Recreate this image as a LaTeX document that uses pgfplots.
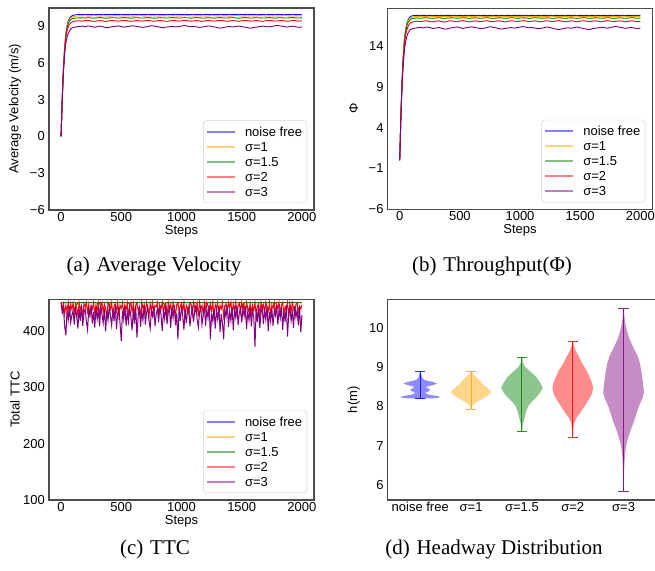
\documentclass[border=0pt]{standalone}
\usepackage{pgfplots}
\pgfplotsset{compat=1.18}
\usepackage{pgfplotstable}
\usepackage{fontspec}
\setmainfont{Liberation Sans}
\newfontfamily\capfont{Liberation Serif}

\definecolor{cb}{RGB}{0,0,255}
\definecolor{co}{RGB}{255,165,0}
\definecolor{cg}{RGB}{0,128,0}
\definecolor{cr}{RGB}{255,0,0}
\definecolor{cp}{RGB}{128,0,128}

\pgfplotstableread{
x nf s1 s15 s2 s3
0 0 0 0 0 0
10 3.2 3.2 3.1 3.1 3.0
20 5.6 5.5 5.5 5.4 5.2
30 7.3 7.2 7.1 7.0 6.7
40 8.4 8.3 8.2 8.0 7.6
50 9.0 8.9 8.8 8.6 8.1
60 9.4 9.3 9.2 8.95 8.4
70 9.6 9.5 9.4 9.15 8.6
80 9.75 9.65 9.5 9.25 8.75
90 9.83 9.72 9.57 9.32 8.83
100 9.88 9.77 9.61 9.37 8.88
125 9.92 9.81 9.65 9.41 8.93
150 9.93 9.82 9.66 9.43 8.96
175 9.93 9.83 9.67 9.40 8.99
200 9.92 9.82 9.65 9.44 8.94
225 9.93 9.81 9.68 9.46 9.01
250 9.93 9.83 9.66 9.41 8.97
275 9.92 9.84 9.64 9.38 8.90
300 9.93 9.82 9.67 9.42 8.95
325 9.93 9.81 9.69 9.45 8.99
350 9.92 9.83 9.66 9.40 8.93
375 9.93 9.82 9.64 9.37 8.86
400 9.93 9.80 9.66 9.43 8.89
425 9.92 9.82 9.68 9.46 8.94
450 9.93 9.84 9.67 9.42 8.97
475 9.93 9.83 9.65 9.39 9.01
500 9.92 9.81 9.66 9.44 8.96
525 9.93 9.82 9.69 9.47 8.91
550 9.93 9.83 9.67 9.43 8.95
575 9.92 9.82 9.64 9.38 8.99
600 9.93 9.80 9.66 9.41 9.02
625 9.93 9.82 9.68 9.45 8.97
650 9.92 9.84 9.66 9.42 8.93
675 9.93 9.83 9.65 9.40 8.89
700 9.93 9.81 9.67 9.44 8.92
725 9.92 9.82 9.69 9.46 8.97
750 9.93 9.83 9.66 9.41 9.03
775 9.93 9.82 9.64 9.39 8.99
800 9.92 9.81 9.66 9.43 8.95
825 9.93 9.83 9.68 9.45 8.90
850 9.93 9.84 9.67 9.42 8.86
875 9.92 9.82 9.65 9.38 8.91
900 9.93 9.81 9.66 9.41 8.94
925 9.93 9.83 9.69 9.46 8.97
950 9.92 9.82 9.67 9.44 8.93
975 9.93 9.80 9.65 9.40 8.96
1000 9.93 9.82 9.66 9.43 9.00
1025 9.92 9.83 9.68 9.47 9.04
1050 9.93 9.84 9.67 9.44 8.99
1075 9.93 9.82 9.64 9.39 8.95
1100 9.92 9.81 9.66 9.42 8.98
1125 9.93 9.83 9.69 9.45 8.93
1150 9.93 9.82 9.67 9.41 8.89
1175 9.92 9.83 9.65 9.38 8.92
1200 9.93 9.81 9.66 9.43 8.96
1225 9.93 9.82 9.68 9.46 9.01
1250 9.92 9.84 9.66 9.42 8.97
1275 9.93 9.83 9.64 9.40 8.92
1300 9.93 9.81 9.67 9.44 8.86
1325 9.92 9.82 9.69 9.47 8.83
1350 9.93 9.83 9.66 9.43 8.88
1375 9.93 9.82 9.65 9.39 8.93
1400 9.92 9.80 9.67 9.41 8.96
1425 9.93 9.82 9.68 9.45 8.92
1450 9.93 9.84 9.66 9.42 8.97
1475 9.92 9.83 9.64 9.38 9.00
1500 9.93 9.81 9.66 9.43 8.95
1525 9.93 9.82 9.69 9.46 8.91
1550 9.92 9.83 9.67 9.44 8.86
1575 9.93 9.82 9.65 9.40 8.83
1600 9.93 9.81 9.66 9.42 8.88
1625 9.92 9.83 9.68 9.45 8.92
1650 9.93 9.84 9.67 9.41 8.95
1675 9.93 9.82 9.65 9.38 8.99
1700 9.92 9.81 9.66 9.43 8.96
1725 9.93 9.83 9.69 9.47 8.93
1750 9.93 9.82 9.67 9.44 8.97
1775 9.92 9.83 9.64 9.40 9.02
1800 9.93 9.81 9.66 9.42 9.05
1825 9.93 9.82 9.68 9.45 9.00
1850 9.92 9.84 9.66 9.43 8.96
1875 9.93 9.83 9.65 9.39 8.92
1900 9.93 9.81 9.67 9.41 8.95
1925 9.92 9.82 9.69 9.46 8.99
1950 9.93 9.83 9.66 9.43 8.94
1975 9.93 9.82 9.65 9.40 8.89
2000 9.92 9.83 9.67 9.42 8.93
}\tabv

\pgfplotstableread{
x nf s1 s15 s2 s3
0 0 0 0 0 0
10 5.8 5.7 5.6 5.5 5.3
20 10.0 9.9 9.8 9.6 9.3
30 13.0 12.9 12.7 12.4 11.9
40 15.0 14.9 14.7 14.3 13.6
50 16.1 16.0 15.8 15.4 14.6
60 16.8 16.7 16.5 16.0 15.2
70 17.2 17.1 16.9 16.4 15.6
80 17.45 17.3 17.1 16.65 15.85
90 17.6 17.45 17.25 16.8 16.0
100 17.67 17.53 17.33 16.9 16.08
125 17.72 17.59 17.39 16.97 16.17
150 17.73 17.60 17.41 17.02 16.22
175 17.72 17.62 17.38 16.96 16.28
200 17.73 17.59 17.42 17.04 16.19
225 17.72 17.61 17.44 17.07 16.31
250 17.73 17.63 17.40 16.98 16.24
275 17.72 17.60 17.37 16.93 16.12
300 17.73 17.58 17.41 17.01 16.18
325 17.72 17.61 17.45 17.06 16.26
350 17.73 17.62 17.40 16.97 16.16
375 17.72 17.60 17.37 16.91 16.05
400 17.73 17.57 17.40 17.02 16.10
425 17.72 17.60 17.43 17.08 16.20
450 17.73 17.63 17.42 17.01 16.25
475 17.72 17.61 17.39 16.95 16.32
500 17.73 17.59 17.40 17.04 16.23
525 17.72 17.60 17.45 17.09 16.14
550 17.73 17.62 17.42 17.02 16.21
575 17.72 17.61 17.37 16.94 16.28
600 17.73 17.58 17.40 16.99 16.33
625 17.72 17.60 17.43 17.06 16.25
650 17.73 17.63 17.40 17.01 16.18
675 17.72 17.62 17.38 16.97 16.11
700 17.73 17.59 17.41 17.04 16.16
725 17.72 17.60 17.45 17.08 16.25
750 17.73 17.62 17.40 16.99 16.35
775 17.72 17.61 17.37 16.95 16.28
800 17.73 17.59 17.40 17.03 16.21
825 17.72 17.61 17.43 17.06 16.12
850 17.73 17.63 17.42 17.01 16.05
875 17.72 17.60 17.39 16.93 16.14
900 17.73 17.58 17.40 16.99 16.19
925 17.72 17.61 17.45 17.08 16.25
950 17.73 17.60 17.42 17.04 16.18
975 17.72 17.57 17.39 16.97 16.23
1000 17.73 17.60 17.40 17.02 16.30
1025 17.72 17.62 17.43 17.09 16.37
1050 17.73 17.63 17.42 17.04 16.28
1075 17.72 17.60 17.37 16.96 16.21
1100 17.73 17.59 17.40 17.01 16.26
1125 17.72 17.61 17.45 17.07 16.17
1150 17.73 17.60 17.42 17.00 16.10
1175 17.72 17.62 17.39 16.94 16.15
1200 17.73 17.59 17.40 17.03 16.22
1225 17.72 17.60 17.43 17.08 16.31
1250 17.73 17.63 17.40 17.01 16.24
1275 17.72 17.62 17.37 16.97 16.15
1300 17.73 17.59 17.41 17.04 16.05
1325 17.72 17.60 17.45 17.09 16.00
1350 17.73 17.62 17.40 17.02 16.08
1375 17.72 17.61 17.38 16.95 16.17
1400 17.73 17.57 17.41 16.99 16.22
1425 17.72 17.60 17.43 17.07 16.15
1450 17.73 17.63 17.40 17.01 16.24
1475 17.72 17.62 17.37 16.94 16.30
1500 17.73 17.59 17.40 17.03 16.21
1525 17.72 17.60 17.45 17.08 16.14
1550 17.73 17.62 17.42 17.04 16.05
1575 17.72 17.61 17.38 16.97 16.00
1600 17.73 17.59 17.40 17.01 16.09
1625 17.72 17.61 17.43 17.07 16.16
1650 17.73 17.63 17.42 17.00 16.21
1675 17.72 17.60 17.38 16.94 16.28
1700 17.73 17.58 17.40 17.03 16.23
1725 17.72 17.61 17.45 17.09 16.17
1750 17.73 17.60 17.42 17.04 16.24
1775 17.72 17.62 17.37 16.97 16.33
1800 17.73 17.59 17.40 17.01 16.38
1825 17.72 17.60 17.43 17.06 16.30
1850 17.73 17.63 17.40 17.03 16.22
1875 17.72 17.62 17.38 16.95 16.15
1900 17.73 17.59 17.41 16.99 16.20
1925 17.72 17.60 17.45 17.08 16.27
1950 17.73 17.62 17.42 17.03 16.18
1975 17.72 17.61 17.38 16.96 16.10
2000 17.73 17.60 17.40 17.00 16.17
}\tabphi

\pgfplotstableread{
x s2 s3
0 450 450
10 440 432
20 448 441
30 430 408
40 445 392
50 436 437
60 450 420
70 425 444
80 447 415
90 438 428
100 449 436
110 432 411
120 446 443
130 441 425
140 427 404
150 450 439
160 437 418
170 444 446
180 421 409
190 448 431
200 443 440
210 450 417
220 434 402
230 447 438
240 428 427
250 445 445
260 439 413
270 450 434
280 431 406
290 446 442
300 436 421
310 449 437
320 426 408
330 444 444
340 450 429
350 433 414
360 447 440
370 440 399
380 422 435
390 450 419
400 446 443
410 438 426
420 450 410
430 429 438
440 443 417
450 448 446
460 435 403
470 450 431
480 427 441
490 445 412
500 440 382
510 450 436
520 431 420
530 446 445
540 437 409
550 449 433
560 424 416
570 444 442
580 450 425
590 434 401
600 448 438
610 429 413
620 445 444
630 450 388
640 436 427
650 442 440
660 426 407
670 450 435
680 439 419
690 447 446
700 433 411
710 450 432
720 441 442
730 425 418
740 448 404
750 437 437
760 450 426
770 430 444
780 445 409
790 443 430
800 450 439
810 427 415
820 446 443
830 439 428
840 450 400
850 432 436
860 444 421
870 448 445
880 423 412
890 450 433
900 438 441
910 447 405
920 430 438
930 450 423
940 441 446
950 428 410
960 446 431
970 450 385
980 435 437
990 444 418
1000 449 444
1010 436 426
1020 450 402
1030 424 439
1040 445 414
1050 440 435
1060 431 443
1070 450 408
1080 447 429
1090 429 440
1100 450 416
1110 441 437
1120 433 445
1130 448 420
1140 426 406
1150 450 433
1160 439 441
1170 445 411
1180 430 427
1190 450 444
1200 437 409
1210 450 438
1220 444 423
1230 428 446
1240 447 385
1250 435 431
1260 450 417
1270 421 440
1280 446 404
1290 440 436
1300 450 421
1310 429 444
1320 445 398
1330 439 430
1340 450 413
1350 426 385
1360 443 439
1370 448 426
1380 434 445
1390 450 407
1400 442 435
1410 450 418
1420 431 442
1430 447 401
1440 436 437
1450 450 424
1460 425 446
1470 444 410
1480 449 432
1490 433 440
1500 450 415
1510 438 438
1520 446 427
1530 427 444
1540 450 403
1550 441 434
1560 434 419
1570 448 441
1580 430 408
1590 445 436
1600 436 425
1610 450 372
1620 429 439
1630 444 416
1640 448 445
1650 423 405
1660 450 431
1670 439 442
1680 446 412
1690 431 437
1700 450 420
1710 442 444
1720 435 400
1730 450 433
1740 428 417
1750 446 440
1760 440 409
1770 450 436
1780 426 427
1790 447 445
1800 439 411
1810 450 438
1820 432 423
1830 445 442
1840 450 402
1850 430 435
1860 443 416
1870 437 446
1880 450 390
1890 425 429
1900 448 441
1910 434 418
1920 450 434
1930 441 405
1940 429 444
1950 447 424
1960 450 437
1970 433 410
1980 444 443
1990 439 398
2000 446 428
}\tabttc

\newcommand{\mylegend}{%
  \addlegendimage{line width=2pt, color=cb!50!white}\addlegendentry{noise free}
  \addlegendimage{line width=2pt, color=co!50!white}\addlegendentry{σ=1}
  \addlegendimage{line width=2pt, color=cg!50!white}\addlegendentry{σ=1.5}
  \addlegendimage{line width=2pt, color=cr!50!white}\addlegendentry{σ=2}
  \addlegendimage{line width=2pt, color=cp!50!white}\addlegendentry{σ=3}
}

\pgfplotsset{
  base/.style={
    scale only axis,
    anchor=south west,
    enlargelimits=false,
    axis line style={draw=black!70, line width=1.1pt},
    major tick length=0pt,
    tick label style={font=\fontsize{13}{15}\selectfont, inner sep=2pt},
    yticklabel style={xshift=-2pt},
    every axis x label/.style={at={([yshift=-21pt]axis description cs:0.5,0)}, anchor=center, font=\fontsize{13}{15}\selectfont},
    every axis y label/.style={at={([xshift=-34pt]axis description cs:0,0.5)}, rotate=90, anchor=center, font=\fontsize{13}{15}\selectfont},
    legend cell align=left,
    legend image code/.code={\draw[##1] (0pt,0pt) -- (28pt,0pt);},
    legend style={at={(1,0)}, anchor=south east, xshift=-7pt, yshift=7pt,
      draw=black!18, rounded corners=3pt, fill=white,
      font=\fontsize{13}{15}\selectfont,
      inner xsep=2.7pt, inner ysep=4.3pt, row sep=1.5pt, column sep=7pt,
      nodes={inner xsep=2pt, inner ysep=2pt, text height=9.5pt, text depth=0pt}},
  },
  steps/.style={
    xmin=-100, xmax=2100,
    xtick={0,500,1000,1500,2000},
    xticklabels={0,500,1000,1500,2000},
    xlabel={Steps},
  },
}

\begin{document}
\begin{tikzpicture}
\useasboundingbox (0,0) rectangle (655pt,570pt);

% (a)
\begin{axis}[base, steps, at={(49pt,360pt)}, width=265pt, height=202pt,
  ymin=-6, ymax=10.47, ytick={-6,-3,0,3,6,9}, yticklabels={−6,−3,0,3,6,9},
  ylabel={Average Velocity (m/s)}]
\addplot[cb, line width=0.9pt, forget plot] table[x=x,y=nf]{\tabv};
\addplot[co, line width=0.9pt, forget plot] table[x=x,y=s1]{\tabv};
\addplot[cg, line width=0.9pt, forget plot] table[x=x,y=s15]{\tabv};
\addplot[cr, line width=0.9pt, forget plot] table[x=x,y=s2]{\tabv};
\addplot[cp, line width=0.9pt, forget plot] table[x=x,y=s3]{\tabv};
\mylegend
\end{axis}

% (b)
\begin{axis}[base, steps, at={(387.7pt,360.7pt)}, width=264.6pt, height=201pt,
  ymin=-6, ymax=18.6, ytick={-6,-1,4,9,14}, yticklabels={−6,−1,4,9,14},
  ylabel={Φ}]
\addplot[cb, line width=0.9pt, forget plot] table[x=x,y=nf]{\tabphi};
\addplot[co, line width=0.9pt, forget plot] table[x=x,y=s1]{\tabphi};
\addplot[cg, line width=0.9pt, forget plot] table[x=x,y=s15]{\tabphi};
\addplot[cr, line width=0.9pt, forget plot] table[x=x,y=s2]{\tabphi};
\addplot[cp, line width=0.9pt, forget plot] table[x=x,y=s3]{\tabphi};
\mylegend
\end{axis}

% (c)
\begin{axis}[base, steps, at={(49pt,70pt)}, width=265pt, height=200.7pt,
  ymin=100, ymax=456, ytick={100,200,300,400}, yticklabels={100,200,300,400},
  ylabel={Total TTC}]
\addplot[cb, line width=1pt, forget plot] coordinates {(0,450)(2000,450)};
\addplot[co, line width=1pt, forget plot] coordinates {(0,450)(400,450)(410,447)(420,450)(1100,450)(1110,448)(1120,450)(2000,450)};
\addplot[cg, line width=1pt, forget plot] coordinates {(0,450)(120,450)(130,446)(140,450)(300,450)(310,444)(320,450)(560,450)(570,447)(580,450)(850,450)(860,445)(870,450)(1200,450)(1210,446)(1220,450)(1500,450)(1510,444)(1520,450)(1760,450)(1770,447)(1780,450)(2000,450)};
\addplot[cr, line width=1pt, forget plot] table[x=x,y=s2]{\tabttc};
\addplot[cp, line width=1pt, forget plot] table[x=x,y=s3]{\tabttc};
\mylegend
\end{axis}

% (d)
\begin{axis}[base, at={(387.7pt,70pt)}, width=268.4pt, height=200.7pt,
  xmin=0.36, xmax=5.64, ymin=5.62, ymax=10.72,
  xtick={1,2,3,4,5}, xticklabels={noise free,σ=1,σ=1.5,σ=2,σ=3},
  ytick={6,7,8,9,10}, yticklabels={6,7,8,9,10},
  ylabel={h(m)}]
\addplot[draw=none, fill=cb, fill opacity=0.45] coordinates {(1.22,8.20)(1.36,8.22)(1.40,8.24)(1.30,8.27)(1.15,8.30)(1.10,8.34)(1.16,8.38)(1.20,8.42)(1.14,8.46)(1.12,8.50)(1.25,8.54)(1.33,8.58)(1.25,8.62)(1.08,8.67)(1.04,8.72)(1.02,8.80)(1.005,8.89)(0.995,8.89)(0.98,8.80)(0.96,8.72)(0.92,8.67)(0.75,8.62)(0.67,8.58)(0.75,8.54)(0.88,8.50)(0.86,8.46)(0.80,8.42)(0.84,8.38)(0.90,8.34)(0.85,8.30)(0.70,8.27)(0.60,8.24)(0.64,8.22)(0.78,8.20)} -- cycle;
\addplot[draw=none, fill=co, fill opacity=0.45] coordinates {(2.005,7.92)(2.03,8.02)(2.10,8.10)(2.24,8.20)(2.36,8.30)(2.40,8.36)(2.34,8.45)(2.24,8.55)(2.16,8.67)(2.10,8.75)(2.04,8.82)(2.005,8.89)(1.995,8.89)(1.96,8.82)(1.90,8.75)(1.84,8.67)(1.76,8.55)(1.66,8.45)(1.60,8.36)(1.64,8.30)(1.76,8.20)(1.90,8.10)(1.97,8.02)(1.995,7.92)} -- cycle;
\addplot[draw=none, fill=cg, fill opacity=0.45] coordinates {(3.005,7.35)(3.02,7.55)(3.06,7.74)(3.09,7.90)(3.12,8.00)(3.18,8.10)(3.29,8.24)(3.36,8.35)(3.41,8.48)(3.36,8.60)(3.28,8.75)(3.17,8.88)(3.06,9.01)(3.02,9.12)(3.005,9.24)(2.995,9.24)(2.98,9.12)(2.94,9.01)(2.83,8.88)(2.72,8.75)(2.64,8.60)(2.59,8.48)(2.64,8.35)(2.71,8.24)(2.82,8.10)(2.88,8.00)(2.91,7.90)(2.94,7.74)(2.98,7.55)(2.995,7.35)} -- cycle;
\addplot[draw=none, fill=cr, fill opacity=0.45] coordinates {(4.005,7.22)(4.01,7.40)(4.03,7.57)(4.07,7.70)(4.14,7.82)(4.23,8.00)(4.31,8.16)(4.37,8.30)(4.40,8.45)(4.38,8.60)(4.33,8.75)(4.27,8.92)(4.18,9.10)(4.12,9.26)(4.06,9.40)(4.02,9.55)(4.005,9.65)(3.995,9.65)(3.98,9.55)(3.94,9.40)(3.88,9.26)(3.82,9.10)(3.73,8.92)(3.67,8.75)(3.62,8.60)(3.60,8.45)(3.63,8.30)(3.69,8.16)(3.77,8.00)(3.86,7.82)(3.93,7.70)(3.97,7.57)(3.99,7.40)(3.995,7.22)} -- cycle;
\addplot[draw=none, fill=cp, fill opacity=0.45] coordinates {(5.005,5.84)(5.01,6.20)(5.015,6.50)(5.03,6.80)(5.05,7.00)(5.09,7.20)(5.14,7.40)(5.20,7.60)(5.25,7.80)(5.30,8.00)(5.37,8.20)(5.40,8.35)(5.39,8.50)(5.37,8.70)(5.35,8.90)(5.32,9.10)(5.27,9.30)(5.19,9.50)(5.12,9.70)(5.07,9.90)(5.035,10.10)(5.015,10.30)(5.005,10.48)(4.995,10.48)(4.985,10.30)(4.965,10.10)(4.93,9.90)(4.88,9.70)(4.81,9.50)(4.73,9.30)(4.68,9.10)(4.65,8.90)(4.63,8.70)(4.61,8.50)(4.60,8.35)(4.63,8.20)(4.70,8.00)(4.75,7.80)(4.80,7.60)(4.86,7.40)(4.91,7.20)(4.95,7.00)(4.97,6.80)(4.985,6.50)(4.99,6.20)(4.995,5.84)} -- cycle;
\addplot[cb, line width=1pt, opacity=0.85] coordinates {(1,8.20)(1,8.89)};
\addplot[cb, line width=1pt, opacity=0.85] coordinates {(0.9,8.20)(1.1,8.20)};
\addplot[cb, line width=1pt, opacity=0.85] coordinates {(0.9,8.89)(1.1,8.89)};
\addplot[co, line width=1pt, opacity=0.85] coordinates {(2,7.92)(2,8.89)};
\addplot[co, line width=1pt, opacity=0.85] coordinates {(1.9,7.92)(2.1,7.92)};
\addplot[co, line width=1pt, opacity=0.85] coordinates {(1.9,8.89)(2.1,8.89)};
\addplot[cg, line width=1pt, opacity=0.85] coordinates {(3,7.35)(3,9.24)};
\addplot[cg, line width=1pt, opacity=0.85] coordinates {(2.9,7.35)(3.1,7.35)};
\addplot[cg, line width=1pt, opacity=0.85] coordinates {(2.9,9.24)(3.1,9.24)};
\addplot[cr, line width=1pt, opacity=0.85] coordinates {(4,7.22)(4,9.65)};
\addplot[cr, line width=1pt, opacity=0.85] coordinates {(3.9,7.22)(4.1,7.22)};
\addplot[cr, line width=1pt, opacity=0.85] coordinates {(3.9,9.65)(4.1,9.65)};
\addplot[cp, line width=1pt, opacity=0.85] coordinates {(5,5.84)(5,10.48)};
\addplot[cp, line width=1pt, opacity=0.85] coordinates {(4.9,5.84)(5.1,5.84)};
\addplot[cp, line width=1pt, opacity=0.85] coordinates {(4.9,10.48)(5.1,10.48)};
\end{axis}

\node[font=\capfont\fontsize{21}{25}\selectfont] at (154pt,304pt) {(a)\hspace{0.32em}Average Velocity};
\node[font=\capfont\fontsize{21}{25}\selectfont] at (492pt,304pt) {(b)\hspace{0.32em}Throughput(Φ)};
\node[font=\capfont\fontsize{21}{25}\selectfont] at (155pt,21pt) {(c)\hspace{0.32em}TTC};
\node[font=\capfont\fontsize{21}{25}\selectfont] at (494pt,21pt) {(d)\hspace{0.32em}Headway Distribution};
\end{tikzpicture}
\end{document}
